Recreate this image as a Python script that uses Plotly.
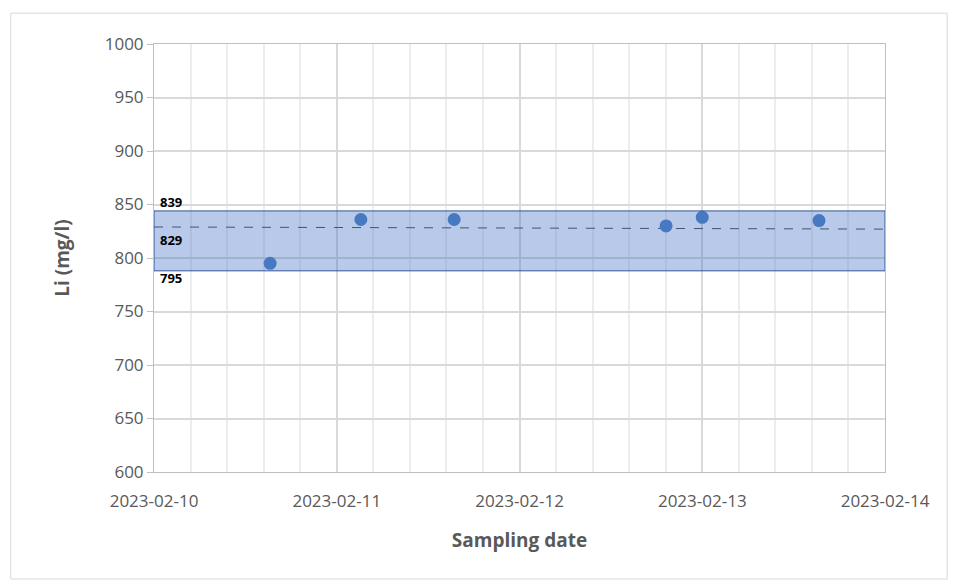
import plotly.graph_objects as go

dates = ["2023-02-10 15:15", "2023-02-11 03:10", "2023-02-11 15:25",
         "2023-02-12 19:15", "2023-02-13 00:00", "2023-02-13 15:20"]
li = [795, 836, 836, 830, 838, 835]
band_low, band_high = 788, 844
mean_line = [829, 827]
labels = ["839", "829", "795"]
label_y = [852, 817, 781]

x0, x1 = "2023-02-10", "2023-02-14"

fig = go.Figure()
fig.add_shape(type="rect", x0=x0, x1=x1, y0=band_low, y1=band_high,
              fillcolor="rgba(68,114,196,0.38)", line=dict(color="#2F5597", width=1), layer="above")
fig.add_trace(go.Scatter(x=[x0, x1], y=mean_line, mode="lines",
                         line=dict(color="#404040", width=1, dash="dash"), showlegend=False))
fig.add_trace(go.Scatter(x=dates, y=li, mode="markers",
                         marker=dict(color="#4A7EC2", size=13), showlegend=False))
for t, y in zip(labels, label_y):
    fig.add_annotation(x=0.005, xref="paper", y=y, text="<b>%s</b>" % t, showarrow=False,
                       xanchor="left", font=dict(size=13, color="black", family="Open Sans"))

fig.update_layout(
    width=956, height=583, paper_bgcolor="white", plot_bgcolor="white",
    margin=dict(l=146, r=79, t=36, b=119),
    font=dict(family="Open Sans, Liberation Sans, Arial", color="#595959", size=17),
    shapes=list(fig.layout.shapes) + [dict(type="rect", xref="paper", yref="paper",
        x0=-0.196, x1=1.085, y0=-0.25, y1=1.072, line=dict(color="#D9D9D9", width=1))],
)
fig.update_xaxes(range=[x0, x1], dtick=86400000, tickformat="%Y-%m-%d",
                 showgrid=True, gridcolor="#D9D9D9", gridwidth=1.5,
                 minor=dict(dtick=86400000 / 5, showgrid=True, gridcolor="#EDEDED"),
                 showline=True, linecolor="#BFBFBF", mirror=True, ticks="outside", ticklen=14,
                 tickcolor="white",
                 title=dict(text="<b>Sampling date</b>", font=dict(size=19), standoff=22))
fig.update_yaxes(range=[600, 1000], dtick=50, showgrid=True, gridcolor="#D9D9D9", gridwidth=1.5,
                 showline=True, linecolor="#BFBFBF", mirror=True, ticks="outside", ticklen=6,
                 tickcolor="#BFBFBF", zeroline=False,
                 title=dict(text="<b>Li (mg/l)</b>", font=dict(size=19), standoff=30))
fig.write_html("out.html")
